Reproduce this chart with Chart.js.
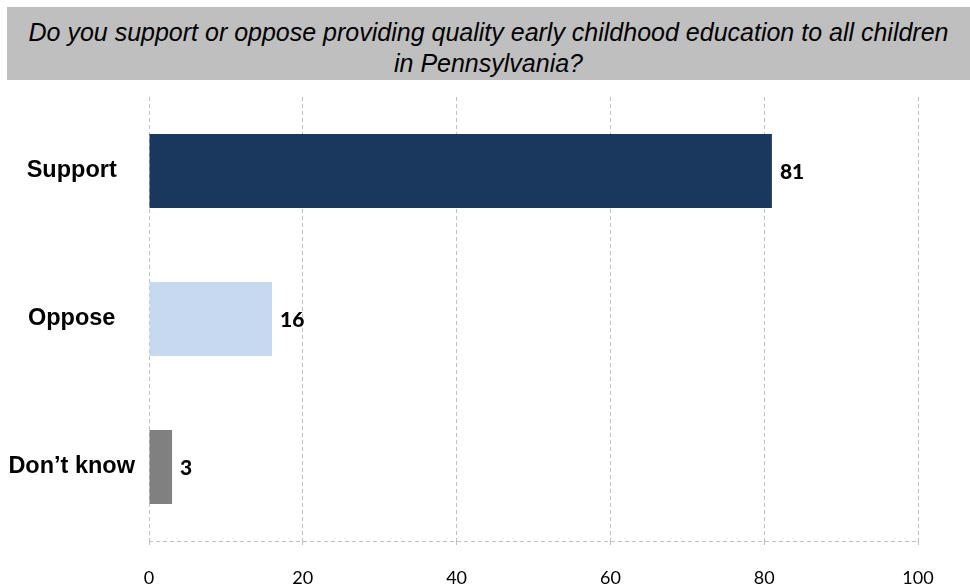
<!DOCTYPE html>
<html>
<head>
<meta charset="utf-8">
<script src="https://cdn.jsdelivr.net/npm/chart.js@4.4.1/dist/chart.umd.min.js"></script>
<style>
  html, body { margin: 0; padding: 0; background: #ffffff; }
  #wrap { position: relative; width: 970px; height: 585px; overflow: hidden; }
  #title {
    position: absolute; left: 7px; top: 7px; width: 963px; height: 73px;
    box-sizing: border-box; padding-top: 10px;
    background: #bfbfbf; color: #000;
    font-family: "Liberation Sans", Arial, sans-serif;
    font-style: italic; font-size: 25px; line-height: 31px;
    text-align: center; white-space: nowrap;
  }
  canvas { position: absolute; left: 0; top: 0; }
</style>
</head>
<body>
<div id="wrap">
  <canvas id="c" width="970" height="585"></canvas>
  <div id="title">Do you support or oppose providing quality early childhood education to all children<br>in Pennsylvania?</div>
</div>
<script>
const categories = ["Support", "Oppose", "Don\u2019t know"];
const values = [81, 16, 3];
const barColors = ["#1a375e", "#c6d9f1", "#808080"];
const xTicks = [0, 20, 40, 60, 80, 100];

const valueLabels = {
  id: 'valueLabels',
  afterDatasetsDraw(chart) {
    const ctx = chart.ctx;
    const meta = chart.getDatasetMeta(0);
    ctx.save();
    ctx.font = '900 21px Lato, "Open Sans", sans-serif';
    ctx.fillStyle = '#000';
    ctx.textAlign = 'left';
    ctx.textBaseline = 'middle';
    meta.data.forEach((bar, i) => {
      ctx.fillText(String(values[i]), bar.x + 8, bar.y + 1);
    });
    ctx.restore();
  }
};

new Chart(document.getElementById('c'), {
  type: 'bar',
  data: {
    labels: categories,
    datasets: [{
      data: values,
      backgroundColor: barColors,
      borderWidth: 0,
      barPercentage: 0.5,
      categoryPercentage: 1.0
    }]
  },
  options: {
    indexAxis: 'y',
    responsive: false,
    animation: false,
    devicePixelRatio: 1,
    layout: { padding: { top: 97, right: 52, left: 0, bottom: 0 } },
    plugins: { legend: { display: false }, tooltip: { enabled: false }, title: { display: false } },
    scales: {
      x: {
        min: 0, max: 100,
        afterBuildTicks(scale) { scale.ticks = xTicks.map(v => ({ value: v })); },
        afterFit(scale) { scale.height = 44; },
        grid: { color: '#c0c0c0', lineWidth: 1, tickLength: 4, drawTicks: true, borderDash: [4, 3], tickColor: '#c0c0c0' },
        border: { display: false, color: '#c0c0c0', dash: [4, 3], width: 1 },
        ticks: { color: '#000', font: { family: 'Lato, "Open Sans", sans-serif', size: 18 }, padding: 22, maxRotation: 0 }
      },
      y: {
        afterFit(scale) { scale.width = 149; },
        grid: {
          display: true, drawTicks: false, lineWidth: 1, borderDash: [4, 3],
          color: (c) => (c.tick === undefined ? '#c0c0c0' : 'rgba(0,0,0,0)')
        },
        border: { display: false, dash: [4, 3] },
        ticks: { color: '#000', crossAlign: 'center', padding: 14, font: { family: '"Liberation Sans", Arial, sans-serif', size: 23.5, weight: 'bold' } }
      }
    }
  },
  plugins: [valueLabels]
});
</script>
</body>
</html>
